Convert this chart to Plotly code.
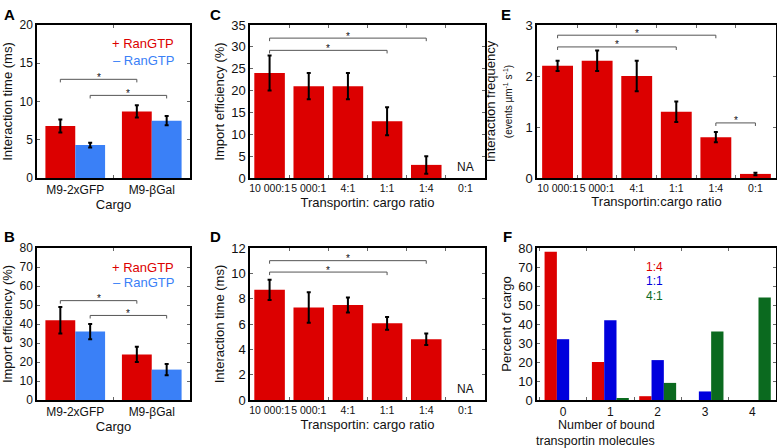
import plotly.graph_objects as go

# ---------------- data ----------------
cargo_cats = ["M9-2xGFP", "M9-βGal"]
A_plus = [6.8, 8.7]
A_plus_err = [0.85, 0.8]
A_minus = [4.3, 7.5]
A_minus_err = [0.3, 0.6]

B_plus = [42, 24]
B_plus_err = [7, 4]
B_minus = [36, 16]
B_minus_err = [4, 3]

ratio_cats = ["10 000:1", "5 000:1", "4:1", "1:1", "1:4", "0:1"]
C_vals = [24, 21, 21, 13, 3, None]
C_err = [4, 3, 3, 3.2, 2, None]
D_vals = [8.7, 7.3, 7.5, 6.05, 4.8, None]
D_err = [0.8, 1.2, 0.6, 0.5, 0.45, None]
E_vals = [2.2, 2.3, 2.0, 1.3, 0.8, 0.08]
E_err = [0.1, 0.2, 0.3, 0.2, 0.1, 0.025]

bound_cats = ["0", "1", "2", "3", "4"]
F_14 = [78, 20, 2, 0, 0]
F_11 = [32, 42, 21, 4.5, 0]
F_41 = [0, 1, 9, 36, 54]
F_title_lines = ["Number of bound", "transportin molecules"]

# significance brackets: (x0, x1, y)
A_sig = [(-0.195, 0.805, 12.9), (0.195, 1.195, 10.8)]
B_sig = [(-0.195, 0.805, 52.3), (0.195, 1.195, 44.5)]
C_sig = [(0, 4, 32.0), (0, 3, 29.2)]
D_sig = [(0, 4, 11.0), (0, 3, 10.1)]
E_sig = [(0, 4, 2.8), (0, 3, 2.57), (4, 5, 1.08)]

RED = "#dc0000"
BLUE_L = "#3a80f7"
BLUE_F = "#0000dd"
GREEN_F = "#0b6a1f"
FONT = "Liberation Sans, Arial, sans-serif"

W, H = 777, 448


def px_dom(a, b, n):
    return [a / n, b / n]


def ydom(top, bot):
    return [1 - bot / H, 1 - top / H]


def err(arr):
    return dict(type="data", array=arr, color="black", thickness=2, width=2)


fig = go.Figure()

# A
fig.add_bar(x=cargo_cats, y=A_plus, error_y=err(A_plus_err), marker_color=RED, xaxis="x", yaxis="y")
fig.add_bar(x=cargo_cats, y=A_minus, error_y=err(A_minus_err), marker_color=BLUE_L, xaxis="x", yaxis="y")
# B
fig.add_bar(x=cargo_cats, y=B_plus, error_y=err(B_plus_err), marker_color=RED, xaxis="x2", yaxis="y2")
fig.add_bar(x=cargo_cats, y=B_minus, error_y=err(B_minus_err), marker_color=BLUE_L, xaxis="x2", yaxis="y2")
# C
fig.add_bar(x=ratio_cats, y=C_vals, error_y=err(C_err), marker_color=RED, xaxis="x3", yaxis="y3")
# D
fig.add_bar(x=ratio_cats, y=D_vals, error_y=err(D_err), marker_color=RED, xaxis="x4", yaxis="y4")
# E
fig.add_bar(x=ratio_cats, y=E_vals, error_y=err(E_err), marker_color=RED, xaxis="x5", yaxis="y5")
# F
fig.add_bar(x=bound_cats, y=F_14, marker_color=RED, xaxis="x6", yaxis="y6")
fig.add_bar(x=bound_cats, y=F_11, marker_color=BLUE_F, xaxis="x6", yaxis="y6")
fig.add_bar(x=bound_cats, y=F_41, marker_color=GREEN_F, xaxis="x6", yaxis="y6")

fig.update_traces(marker_line_width=0, showlegend=False, hoverinfo="skip")


def xax(dom, anchor, cats, title, tfs, rng, so):
    return dict(domain=dom, anchor=anchor, type="category", categoryorder="array",
                categoryarray=cats, range=rng, tickson="boundaries", tickangle=0,
                automargin=False,
                ticks="inside", ticklen=3, tickcolor="#666", showline=True,
                linecolor="black", linewidth=1.5, mirror="ticks", showgrid=False,
                zeroline=False, tickfont=dict(size=tfs, family=FONT, color="#111"),
                title=dict(text=title, font=dict(size=13, family=FONT, color="#111"), standoff=so))


def yax(dom, anchor, rng, dt, title, tfs=12, so=4):
    return dict(domain=dom, anchor=anchor, range=rng, dtick=dt, ticks="inside",
                automargin=False,
                ticklen=3, tickcolor="#666", showline=True, linecolor="black",
                linewidth=1.5, mirror="ticks", showgrid=False, zeroline=False,
                tickfont=dict(size=tfs, family=FONT, color="#111"),
                title=dict(text=title, font=dict(size=13, family=FONT, color="#111"), standoff=so))


xA = px_dom(37, 190, W)
xC = px_dom(250, 485, W)
xE = px_dom(537, 776, W)
yTop = ydom(25, 178)
yBot = ydom(248, 400)

fig.update_layout(
    template="none",
    width=W, height=H, margin=dict(l=0, r=0, t=0, b=0, pad=0), autosize=False,
    paper_bgcolor="white", plot_bgcolor="white",
    barmode="group", bargap=0.22, bargroupgap=0,
    font=dict(family=FONT, color="#111"),
    xaxis=xax(xA, "y", cargo_cats, "Cargo", 12, [-0.5, 1.5], 0),
    yaxis=yax(yTop, "x", [0, 20], 5, "Interaction time (ms)"),
    xaxis2=xax(xA, "y2", cargo_cats, "Cargo", 12, [-0.5, 1.5], 0),
    yaxis2=yax(yBot, "x2", [0, 80], 10, "Import efficiency (%)"),
    xaxis3=xax(xC, "y3", ratio_cats, "Transportin: cargo ratio", 10.5, [-0.5, 5.5], 5),
    yaxis3=yax(yTop, "x3", [0, 35], 5, "Import efficiency (%)", 13),
    xaxis4=xax(xC, "y4", ratio_cats, "Transportin: cargo ratio", 10.5, [-0.5, 5.5], 5),
    yaxis4=yax(yBot, "x4", [0, 12], 2, "Interaction time (ms)", 13),
    xaxis5=xax(xE, "y5", ratio_cats, "Transportin:cargo ratio", 10.5, [-0.52, 5.52], 3),
    yaxis5=yax(yTop, "x5", [0, 3], 1,
               "Interaction frequency<br><span style='font-size:10px'>(events µm<sup>-1</sup> s<sup>-1</sup>)</span>",
               13, 10),
    xaxis6=xax(xE, "y6", bound_cats, "", 12, [-0.55, 4.5], 4),
    yaxis6=yax(yBot, "x6", [0, 80], 10, "Percent of cargo", 13),
)

shapes = []
annots = []


def add_sig(sigs, xr, yr, rng):
    d = (rng[1] - rng[0]) * 0.02
    for x0, x1, y in sigs:
        shapes.append(dict(type="path", xref=xr, yref=yr,
                           path=f"M {x0},{y - d} L {x0},{y} L {x1},{y} L {x1},{y - d}",
                           line=dict(color="#555", width=1)))
        annots.append(dict(x=(x0 + x1) / 2, y=y, xref=xr, yref=yr, text="*", showarrow=False,
                           yanchor="middle", yshift=2, font=dict(size=10, color="#111")))


add_sig(A_sig, "x", "y", [0, 20])
add_sig(B_sig, "x2", "y2", [0, 80])
add_sig(C_sig, "x3", "y3", [0, 35])
add_sig(D_sig, "x4", "y4", [0, 12])
add_sig(E_sig, "x5", "y5", [0, 3])

# legends as text
for xr, yr, ys in [("x", "y", (17.6, 15.4)), ("x2", "y2", (70, 62))]:
    annots.append(dict(x=0.886, y=ys[0], xref=xr, yref=yr, text="+ RanGTP", showarrow=False,
                       font=dict(size=13, color=RED)))
    annots.append(dict(x=0.886, y=ys[1], xref=xr, yref=yr, text="– RanGTP", showarrow=False,
                       font=dict(size=13, color=BLUE_L)))
for txt, col, yv in [("1:4", RED, 70), ("1:1", BLUE_F, 62.6), ("4:1", GREEN_F, 54.7)]:
    annots.append(dict(x=1.94, y=yv, xref="x6", yref="y6", text=txt, showarrow=False,
                       font=dict(size=12, color=col)))

# F x-axis title (two tightly spaced lines)
for line, yp in zip(F_title_lines, [425, 440.5]):
    annots.append(dict(x=(xE[0] + xE[1]) / 2, y=1 - yp / H, xref="paper", yref="paper",
                       text=line, showarrow=False, yanchor="middle", borderpad=0,
                       font=dict(size=12.5, color="#111")))

# NA labels
annots.append(dict(x="0:1", y=0, xref="x3", yref="y3", text="NA", showarrow=False,
                   yanchor="bottom", yshift=2, font=dict(size=12)))
annots.append(dict(x="0:1", y=0, xref="x4", yref="y4", text="NA", showarrow=False,
                   yanchor="bottom", yshift=2, font=dict(size=12)))

# panel letters
for letter, xp, yp in [("A", 2, 4), ("B", 2, 226), ("C", 208, 4), ("D", 208, 226),
                       ("E", 499, 4), ("F", 501, 226)]:
    annots.append(dict(x=xp / W, y=1 - yp / H, xref="paper", yref="paper", text=f"<b>{letter}</b>",
                       showarrow=False, xanchor="left", yanchor="top",
                       font=dict(size=15, color="black")))

fig.update_layout(shapes=shapes, annotations=annots)
fig.write_html("out.html", config={"displayModeBar": False},
               post_script="document.body.style.margin='0';")
